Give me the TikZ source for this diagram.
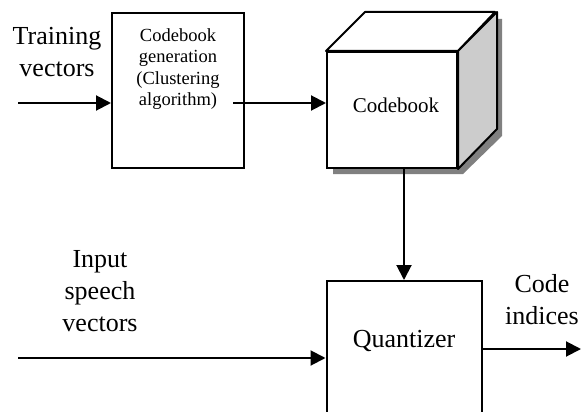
\documentclass[tikz,border=0pt]{standalone}
\usepackage{fontspec}
\setmainfont{Liberation Serif}
\usetikzlibrary{arrows.meta}

\begin{document}
\begin{tikzpicture}[x=1pt,y=-1pt,
  blk/.style={draw=black, line width=2pt, fill=white, inner sep=0pt},
  face/.style={draw=black, line width=2pt, line join=round},
  lbl/.style={align=center, inner sep=0pt, font=\fontsize{26}{32}\selectfont},
  flow/.style={line width=2pt, -{Triangle[length=15pt,width=15pt]}},
  ]
\clip (0,0) rectangle (581,412);

% codebook generation block
\node[blk, minimum width=132pt, minimum height=155pt] (gen) at (178,90.5) {};
\node[align=center, inner sep=0pt, font=\fontsize{18.5}{21.5}\selectfont] (gentext) at (178,69)
  {Codebook\\generation\\(Clustering\\algorithm)};

% codebook cube: drop shadow, front, top and side faces
\fill[black!50] (333,58) -- (372,19) -- (502,19) -- (502,136) -- (463,174) -- (333,174) -- cycle;
\node[blk, minimum width=130pt, minimum height=116pt] (cb) at (392,110) {};
\draw[face, fill=white] (cb.north west) -- ++(39,-39) -- ++(130,0) -- (cb.north east) -- cycle;
\draw[face, fill=black!20] (cb.north east) -- ++(39,-39) -- ++(0,117) -- (cb.south east) -- cycle;
\node[inner sep=0pt, font=\fontsize{21}{25}\selectfont] (cbtext) at (396,105) {Codebook};

% quantizer block (runs past the lower edge)
\node[blk, minimum width=155pt, minimum height=160pt] (quant) at (404,361) {};
\node[lbl] (qtext) at (404,341) {Quantizer};

% labels
\node[lbl] (train) at (57,52) {Training\\vectors};
\node[lbl] (speech) at (100,291) {Input\\speech\\vectors};
\node[lbl] (codeidx) at (542,300) {Code\\indices};

% connectors
\coordinate (tin) at (18,103);
\coordinate (g2c) at (233,103);
\coordinate (sin) at (18,358);
\coordinate (cout) at (581,349);
\draw[flow] (tin) -- (gen.west |- tin);
\draw[flow] (g2c) -- (cb.west |- g2c);
\draw[flow] (cb.south -| quant.north) -- (quant.north);
\draw[flow] (sin) -- (quant.west |- sin);
\draw[flow] (quant.east |- cout) -- (cout);
\end{tikzpicture}
\end{document}
